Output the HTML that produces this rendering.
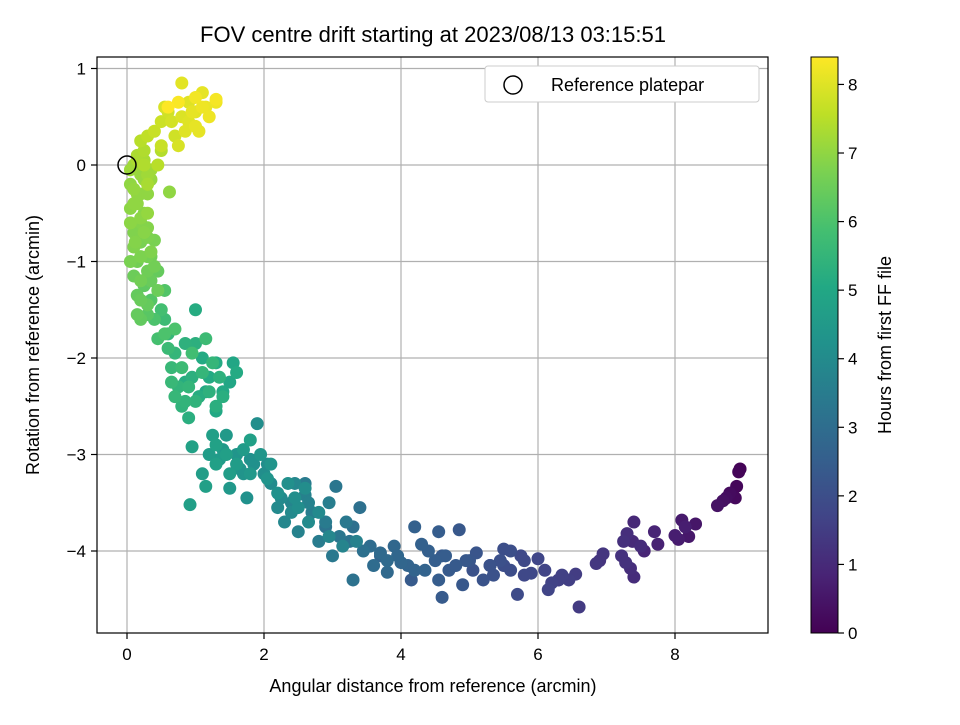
<!DOCTYPE html>
<html><head><meta charset="utf-8"><style>
body{margin:0;background:#fff;}
svg text{font-family:"Liberation Sans","DejaVu Sans",sans-serif;fill:#000;}
</style></head><body>
<svg id="chart" width="960" height="720" viewBox="0 0 960 720" xmlns="http://www.w3.org/2000/svg">
<defs>
<linearGradient id="vir" x1="0" y1="1" x2="0" y2="0">
<stop offset="0" stop-color="#440154"/><stop offset="0.1" stop-color="#482475"/><stop offset="0.2" stop-color="#414487"/><stop offset="0.3" stop-color="#355f8d"/><stop offset="0.4" stop-color="#2a788e"/><stop offset="0.5" stop-color="#21918c"/><stop offset="0.6" stop-color="#22a884"/><stop offset="0.7" stop-color="#44bf70"/><stop offset="0.8" stop-color="#7ad151"/><stop offset="0.9" stop-color="#bddf26"/><stop offset="1" stop-color="#fde725"/>
</linearGradient>
<clipPath id="clip"><rect x="97" y="57" width="671" height="576"/></clipPath>
</defs>
<text x="433" y="42" font-size="22" text-anchor="middle">FOV centre drift starting at 2023/08/13 03:15:51</text>
<g id="grid"></g>
<g id="pts" clip-path="url(#clip)"></g>
<circle cx="127" cy="165" r="9" fill="none" stroke="#000" stroke-width="1.5"/>
<rect x="97" y="57" width="671" height="576" fill="none" stroke="#000" stroke-width="1.2"/>
<g id="ticks"></g>
<text x="433" y="692" font-size="18" text-anchor="middle">Angular distance from reference (arcmin)</text>
<text transform="translate(39,345) rotate(-90)" font-size="18" text-anchor="middle">Rotation from reference (arcmin)</text>
<g>
<rect x="485" y="66" width="274" height="36" rx="3" fill="#fff" stroke="#ccc"/>
<circle cx="513" cy="85" r="9" fill="none" stroke="#000" stroke-width="1.5"/>
<text x="551" y="91" font-size="18">Reference platepar</text>
</g>
<rect x="811" y="57" width="27" height="576" fill="url(#vir)" stroke="#000" stroke-width="1"/>
<g id="cbt"></g>
<text transform="translate(891,345) rotate(-90)" font-size="18" text-anchor="middle">Hours from first FF file</text>
</svg>
<script>
const xTicks=[0,2,4,6,8];
const yTicks=[1,0,-1,-2,-3,-4];
const cTicks=[0,1,2,3,4,5,6,7,8];
const distX=[8.95,8.93,8.9,8.88,8.8,8.75,8.7,8.62,8.3,8.2,8.1,8.05,8.0,7.75,7.7,7.55,7.4,7.38,7.4,7.35,7.3,7.25,7.22,7.28,6.95,6.85,6.6,6.55,6.45,6.35,6.2,6.15,6.1,6.0,5.9,5.8,5.7,5.6,5.5,5.45,5.35,5.2,5.1,5.0,4.9,4.85,4.7,4.6,4.55,4.55,4.5,4.4,4.3,4.2,4.1,4.0,3.9,3.8,3.7,3.6,3.45,3.4,3.3,3.25,3.1,3.05,3.0,2.9,2.8,2.7,2.6,2.5,2.4,2.3,2.2,2.1,2.0,1.9,1.85,1.75,1.7,1.6,1.5,1.45,1.35,1.2,1.1,1.15,0.92,0.95,1.3,1.5,1.55,1.3,1.2,1.1,1.0,1.05,0.9,0.95,0.85,0.8,0.75,0.7,0.7,0.65,0.6,0.55,0.5,0.45,0.4,0.35,0.3,0.25,0.2,0.15,0.1,0.3,0.4,0.2,0.1,0.3,0.25,0.05,0.15,0.05,0.3,0.2,0.1,0.15,0.3,0.15,0.25,0.2,0.3,0.4,0.5,0.6,0.7,0.75,0.8,0.9,0.8,1.0,1.1,1.2,1.3,0.75,0.6,1.05,0.62,
5.75,5.3,4.95,4.65,4.35,3.95,3.55,3.2,2.95,2.65,2.45,2.25,2.05,1.8,1.65,1.4,1.25,1.4,1.3,1.15,0.85,1.0,0.6,0.55,0.45,0.35,0.3,0.2,0.15,0.1,0.2,0.3,0.15,0.05,0.25,0.35,0.1,0.2,0.3,0.15,0.25,0.35,0.5,0.55,0.9,1.0,1.15,1.3,1.6,1.8,2.1,2.4,2.6,2.9,3.3,3.7,4.15,4.6,5.05,5.5,6.3,6.9,7.5,8.15,
0.1,0.25,0.35,0.05,0.2,0.3,0.15,0.45,0.4,0.3,0.2,0.12,0.35,0.05,0.25,0.2,
0.55,0.7,0.8,0.9,1.0,1.1,1.2,1.25,1.35,1.4,0.95,0.65,0.85,1.15,1.3,
1.3,1.45,1.6,1.7,1.8,1.95,2.05,2.2,2.35,2.5,2.65,2.8,2.95,3.15,3.35,2.45,2.6,1.5,
0.5,0.65,0.95,1.1,0.85,1.0,0.45,
4.2,4.8,5.3,5.8,6.3,3.8,5.6];
const rotY=[-3.15,-3.18,-3.33,-3.45,-3.4,-3.45,-3.48,-3.53,-3.72,-3.85,-3.68,-3.88,-3.84,-3.93,-3.8,-4.0,-3.7,-3.9,-4.27,-4.18,-3.82,-3.9,-4.05,-4.12,-4.03,-4.13,-4.58,-4.24,-4.3,-4.25,-4.33,-4.4,-4.2,-4.08,-4.23,-4.1,-4.45,-4.2,-3.98,-4.1,-4.25,-4.3,-4.02,-4.1,-4.35,-3.78,-4.2,-4.48,-4.3,-3.8,-4.1,-4.0,-3.93,-3.75,-4.15,-4.12,-3.95,-4.22,-4.02,-4.15,-4.0,-3.55,-4.3,-3.9,-3.85,-3.33,-4.05,-3.7,-3.9,-3.6,-3.42,-3.8,-3.5,-3.7,-3.55,-3.3,-3.2,-2.68,-3.1,-3.45,-3.2,-3.0,-3.35,-2.8,-3.05,-3.0,-3.2,-3.33,-3.52,-2.92,-2.9,-2.25,-2.05,-2.55,-2.2,-2.0,-1.5,-2.4,-2.62,-2.2,-1.85,-2.5,-2.3,-1.95,-2.4,-2.1,-1.9,-1.6,-1.5,-1.8,-1.6,-1.4,-1.55,-1.25,-1.6,-1.35,-1.15,-1.1,-0.78,-0.95,-0.85,-0.65,-0.5,-0.6,-0.3,-0.2,-0.5,-0.1,0.0,0.05,-0.2,0.1,0.15,0.25,0.3,0.35,0.45,0.55,0.3,0.2,0.5,0.65,0.85,0.4,0.75,0.5,0.68,0.65,0.6,0.35,-0.28,
-4.05,-4.15,-4.1,-4.05,-4.2,-4.05,-3.95,-3.7,-3.5,-3.5,-3.3,-3.45,-3.1,-3.05,-3.15,-2.95,-2.8,-2.35,-2.05,-2.35,-2.25,-1.85,-1.75,-1.3,-1.1,-0.95,-0.75,-0.6,-0.4,-0.25,-0.8,-0.95,-1.0,-0.45,-0.15,-1.2,-0.7,-0.3,-0.1,0.05,0.0,-0.05,0.15,0.6,0.45,0.55,0.6,0.65,-2.15,-2.85,-3.1,-3.6,-3.3,-3.75,-3.75,-4.05,-4.3,-4.05,-4.2,-4.15,-4.3,-4.1,-3.95,-3.75,
-0.4,-0.7,-0.9,-1.0,-1.2,-1.45,-1.55,-1.3,-1.05,-0.3,-0.55,-0.8,-0.15,-0.05,0.05,-1.4,
-1.75,-1.7,-2.1,-2.3,-2.45,-2.15,-2.35,-2.05,-2.2,-2.4,-1.95,-2.25,-2.45,-1.8,-2.5,
-3.1,-3.0,-3.1,-2.95,-3.2,-3.0,-3.25,-3.4,-3.3,-3.55,-3.7,-3.6,-3.85,-3.95,-3.9,-3.45,-3.35,-3.2,
0.2,0.45,0.55,0.6,0.35,0.7,0.0,
-4.2,-4.15,-4.15,-4.25,-4.3,-4.1,-4.0];
const hours=[0.05,0.1,0.15,0.2,0.25,0.3,0.35,0.4,0.5,0.55,0.6,0.65,0.7,0.8,0.85,0.9,0.95,1.0,1.05,1.1,1.1,1.15,1.2,1.2,1.3,1.35,1.45,1.5,1.55,1.6,1.65,1.7,1.7,1.75,1.8,1.85,1.9,1.95,2.0,2.05,2.1,2.15,2.2,2.25,2.3,2.3,2.35,2.4,2.45,2.45,2.5,2.55,2.6,2.6,2.7,2.75,2.8,2.85,2.9,2.95,
3.1,3.1,3.15,3.2,3.3,3.3,3.35,3.45,3.5,3.55,3.65,3.7,3.8,3.85,3.95,4.0,4.1,4.1,4.15,4.2,4.3,4.35,4.45,4.5,4.55,4.6,4.65,4.7,4.7,4.8,4.8,4.95,4.95,5.05,5.1,5.1,5.15,5.2,5.25,5.3,5.35,5.4,5.45,5.5,5.55,5.6,5.65,5.7,5.85,5.9,6.0,6.15,6.2,6.3,6.35,6.4,6.5,6.55,6.7,6.75,6.8,6.85,6.9,6.95,7.0,7.0,7.05,7.1,7.2,7.25,7.3,7.35,7.4,7.5,7.6,7.7,7.75,7.8,7.8,7.9,7.95,8.0,8.05,8.1,8.1,8.2,8.3,8.35,8.4,8.1,7.0,
1.85,2.1,2.3,2.45,2.65,2.8,2.95,3.35,3.55,3.7,3.85,3.95,4.1,4.2,4.3,4.5,4.7,5.05,5.1,5.0,5.2,5.3,5.55,6.1,6.4,6.6,6.75,6.85,7.0,7.05,6.7,6.65,6.6,6.95,7.1,6.45,6.8,7.0,7.2,7.35,7.4,7.2,7.45,7.9,8.0,8.05,8.15,8.2,5.1,4.75,4.35,3.95,3.45,3.2,3.1,2.7,2.4,2.35,2.1,1.95,1.6,1.25,1.05,0.7,
7.0,6.9,6.8,6.7,6.6,6.4,6.4,6.5,6.6,7.0,6.95,6.85,7.1,7.15,7.3,6.45,
6.0,6.0,5.7,5.5,5.4,5.5,5.35,5.5,5.35,5.25,5.8,5.6,5.45,5.7,5.25,
4.75,4.7,4.6,4.55,4.45,4.4,4.3,4.2,4.15,4.1,4.0,3.95,3.85,3.75,3.65,4.1,4.05,4.65,
7.7,7.85,8.1,8.2,8.0,8.25,7.5,
2.7,2.35,2.1,1.8,1.55,2.9,2.0];
const X=v=>127+v*68.5, Y=v=>165-v*96.5, CB=v=>633-v*68.57;
const vir=[[68,1,84],[72,36,117],[65,68,135],[53,95,141],[42,120,142],[33,145,140],[34,168,132],[68,191,112],[122,209,81],[189,223,38],[253,231,37]];
function col(h){let t=Math.max(0,Math.min(1,h/8.4))*10,i=Math.min(9,Math.floor(t)),f=t-i,a=vir[i],b=vir[i+1];
return 'rgb('+a.map((c,k)=>Math.round(c+(b[k]-c)*f)).join(',')+')';}
const NS='http://www.w3.org/2000/svg';
function mk(tag,at,parent){const e=document.createElementNS(NS,tag);for(const k in at)e.setAttribute(k,at[k]);parent.appendChild(e);return e;}
const grid=document.getElementById('grid'),ticks=document.getElementById('ticks'),pts=document.getElementById('pts'),cbt=document.getElementById('cbt');
xTicks.forEach(v=>{const x=X(v);
const g=mk('line',{x1:x,x2:x,y1:57,y2:633,stroke:'#b0b0b0','stroke-width':1.2},grid);


const t=mk('line',{x1:x,x2:x,y1:633,y2:639,stroke:'#000','stroke-width':1.2},ticks);


const l=mk('text',{x:x,y:660,'font-size':17,'text-anchor':'middle'},ticks);l.textContent=v;

});
yTicks.forEach(v=>{const y=Y(v);
const g=mk('line',{x1:97,x2:768,y1:y,y2:y,stroke:'#b0b0b0','stroke-width':1.2},grid);


const t=mk('line',{x1:91,x2:97,y1:y,y2:y,stroke:'#000','stroke-width':1.2},ticks);


const l=mk('text',{x:86,y:y+6,'font-size':17,'text-anchor':'end'},ticks);l.textContent=v<0?'\u2212'+(-v):v;

});
cTicks.forEach(v=>{const y=CB(v);
const t=mk('line',{x1:838,x2:844,y1:y,y2:y,stroke:'#000','stroke-width':1.2},cbt);


const l=mk('text',{x:848,y:y+6,'font-size':17},cbt);l.textContent=v;

});
const n=Math.min(distX.length,rotY.length,hours.length);
const idx=[...Array(n).keys()].sort((a,b)=>hours[a]-hours[b]);
idx.forEach(i=>{const c=mk('circle',{cx:X(distX[i]),cy:Y(rotY[i]),r:6.5,fill:col(hours[i])},pts);

});
</script>
</body></html>
